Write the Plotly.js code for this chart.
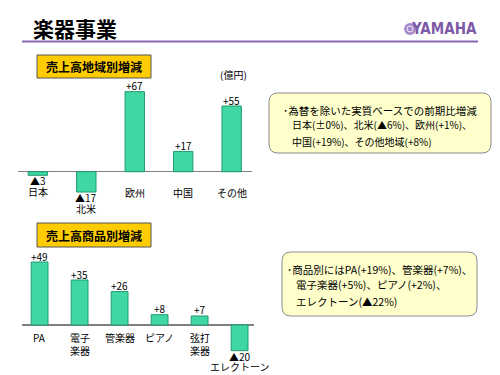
<!DOCTYPE html>
<html><head><meta charset="utf-8">
<script src="https://cdn.plot.ly/plotly-3.0.1.min.js"></script>
<style>html,body{margin:0;padding:0;background:#fff}#c{width:500px;height:375px}</style>
</head><body><div id="c"></div>
<script>
// ---- data ----
const regionCats = ["日本", "北米", "欧州", "中国", "その他"];
const regionVals = [-3, -17, 67, 17, 55];
const productCats = ["PA", "電子<br>楽器", "管楽器", "ピアノ", "弦打<br>楽器", "エレクトーン"];
const productVals = [49, 35, 26, 8, 7, -20];
const pageTitle = "楽器事業";
const chart1Title = "売上高地域別増減";
const chart2Title = "売上高商品別増減";
const unitLabel = "(億円)";
const note1 = ["･為替を除いた実質ベースでの前期比増減", "日本(±0%)、北米(▲6%)、欧州(+1%)、", "中国(+19%)、その他地域(+8%)"];
const note2 = ["･商品別にはPA(+19%)、管楽器(+7%)、", "電子楽器(+5%)、ピアノ(+2%)、", "エレクトーン(▲22%)"];

// ---- helpers ----
const W = 500, H = 375;
const px = x => x / W;
const py = y => 1 - y / H;
const JP = '"Noto Sans CJK JP", "Noto Sans", sans-serif';
const fmt = v => v > 0 ? "+" + v : "▲" + Math.abs(v);
const barFill = "#3fd8a4", barLine = "#1f9a6e";

const traces = [
  {type: "bar", x: regionCats.map((c, i) => i), y: regionVals, xaxis: "x", yaxis: "y",
   width: 0.40, marker: {color: barFill, line: {color: barLine, width: 1}}, hoverinfo: "skip"},
  {type: "bar", x: productCats.map((c, i) => i), y: productVals, xaxis: "x2", yaxis: "y2",
   width: 0.42, marker: {color: barFill, line: {color: barLine, width: 1}}, hoverinfo: "skip"}
];

const ann = [];
function barLabels(cats, vals, xr, yr, posCatShift) {
  vals.forEach((v, i) => {
    const f = {family: JP, size: 10, color: "#000"};
    if (v >= 0) {
      ann.push({xref: xr, yref: yr, x: i, y: v, text: fmt(v), showarrow: false, xanchor: "center", yanchor: "bottom", yshift: -3.5, font: f});
      ann.push({xref: xr, yref: yr, x: i, y: 0, text: cats[i], showarrow: false, xanchor: "center", yanchor: "top", yshift: posCatShift, font: f});
    } else {
      ann.push({xref: xr, yref: yr, x: i, y: v, text: fmt(v), showarrow: false, xanchor: "center", yanchor: "top", yshift: 4, font: f});
      ann.push({xref: xr, yref: yr, x: i, y: v, text: cats[i], showarrow: false, xanchor: "center", yanchor: "top", yshift: -6.5, font: f});
    }
  });
}
barLabels(regionCats, regionVals, "x", "y", -11);
barLabels(productCats, productVals, "x2", "y2", -2.7);

const P = (x, y, text, font, xa, ya) => ann.push({xref: "paper", yref: "paper", x: px(x), y: py(y), text: text,
  showarrow: false, xanchor: xa || "center", yanchor: ya || "middle", font: font});

// page title
P(31, 28, "<b>" + pageTitle + "</b>", {family: JP, size: 21, color: "#000"}, "left");
// logo text
P(479, 29, "<b>YAMAHA</b>", {family: '"Liberation Sans Narrow", "DejaVu Sans Condensed", sans-serif', size: 15, color: "#7d5aa8"}, "right");
// yellow box titles
P(94, 66.5, "<b>" + chart1Title + "</b>", {family: JP, size: 12, color: "#000"});
P(94, 235, "<b>" + chart2Title + "</b>", {family: JP, size: 12, color: "#000"});
P(233, 75, unitLabel, {family: JP, size: 10, color: "#000"});
// notes
const n1y = [110.5, 125, 141], n1x = [281, 290, 290], n1s = [10.5, 10, 10];
note1.forEach((t, i) => P(n1x[i], n1y[i], t, {family: JP, size: n1s[i], color: "#000"}, "left"));
const n2y = [269.5, 284.5, 301], n2x = [285, 294, 294];
note2.forEach((t, i) => P(n2x[i], n2y[i], t, {family: JP, size: 10.5, color: "#000"}, "left"));

function rrect(x0, y0, x1, y1, r) {
  const X = v => px(v), Y = v => py(v);
  return `M ${X(x0 + r)} ${Y(y0)} L ${X(x1 - r)} ${Y(y0)} Q ${X(x1)} ${Y(y0)} ${X(x1)} ${Y(y0 + r)} ` +
    `L ${X(x1)} ${Y(y1 - r)} Q ${X(x1)} ${Y(y1)} ${X(x1 - r)} ${Y(y1)} L ${X(x0 + r)} ${Y(y1)} ` +
    `Q ${X(x0)} ${Y(y1)} ${X(x0)} ${Y(y1 - r)} L ${X(x0)} ${Y(y0 + r)} Q ${X(x0)} ${Y(y0)} ${X(x0 + r)} ${Y(y0)} Z`;
}

const shapes = [
  {type: "line", xref: "paper", yref: "paper", x0: px(22), x1: px(478), y0: py(41.5), y1: py(41.5), line: {color: "#8a66b4", width: 2}},
  {type: "circle", xref: "paper", yref: "paper", x0: px(404), x1: px(416), y0: py(35), y1: py(23), fillcolor: "#a88bcc", line: {color: "#a88bcc", width: 0}},
  {type: "circle", xref: "paper", yref: "paper", x0: px(407), x1: px(413), y0: py(32), y1: py(26), fillcolor: "rgba(0,0,0,0)", line: {color: "#efe8f7", width: 1}},
  {type: "rect", xref: "paper", yref: "paper", x0: px(37), x1: px(151), y0: py(55), y1: py(78), fillcolor: "#ffcc00", line: {color: "#555", width: 1}},
  {type: "rect", xref: "paper", yref: "paper", x0: px(37), x1: px(151), y0: py(223), y1: py(247), fillcolor: "#ffcc00", line: {color: "#555", width: 1}},
  {type: "path", xref: "paper", yref: "paper", path: rrect(269, 93, 491, 153, 9), fillcolor: "#ffffcc", line: {color: "#8c8c8c", width: 1}},
  {type: "path", xref: "paper", yref: "paper", path: rrect(282, 252, 477, 316, 9), fillcolor: "#ffffcc", line: {color: "#8c8c8c", width: 1}}
];

const axOff = {showgrid: false, showticklabels: false, ticks: "", showline: false, zeroline: false, fixedrange: true};
const layout = {
  width: W, height: H, margin: {l: 0, r: 0, t: 0, b: 0},
  paper_bgcolor: "#fff", plot_bgcolor: "rgba(0,0,0,0)", showlegend: false,
  xaxis: Object.assign({}, axOff, {domain: [px(18), px(252)], range: [-0.41, 4.42], anchor: "y"}),
  yaxis: Object.assign({}, axOff, {domain: [py(201.6), py(82.1)], range: [-25, 75], anchor: "x",
    zeroline: true, zerolinecolor: "#808080", zerolinewidth: 1.5}),
  xaxis2: Object.assign({}, axOff, {domain: [px(22), px(254)], range: [-0.44, 5.36], anchor: "y2"}),
  yaxis2: Object.assign({}, axOff, {domain: [py(357.1), py(254.3)], range: [-25, 55], anchor: "x2",
    zeroline: true, zerolinecolor: "#808080", zerolinewidth: 1.5}),
  annotations: ann, shapes: shapes
};
Plotly.newPlot("c", traces, layout, {displayModeBar: false, staticPlot: true});
</script></body></html>
